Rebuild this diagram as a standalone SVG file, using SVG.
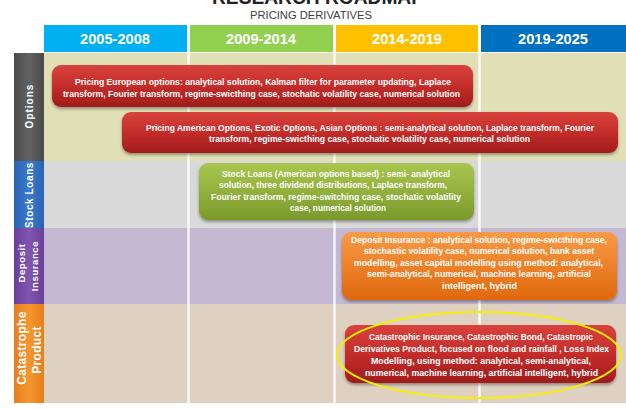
<svg xmlns="http://www.w3.org/2000/svg" width="626" height="409" viewBox="0 0 626 409">
<defs>
<linearGradient id="gRed" x1="0" y1="0" x2="0" y2="1"><stop offset="0" stop-color="#d8423c"/><stop offset="0.5" stop-color="#c42d2a"/><stop offset="1" stop-color="#a01c1c"/></linearGradient>
<linearGradient id="gGreen" x1="0" y1="0" x2="0" y2="1"><stop offset="0" stop-color="#a9c64e"/><stop offset="1" stop-color="#7b9a2c"/></linearGradient>
<linearGradient id="gOrange" x1="0" y1="0" x2="0" y2="1"><stop offset="0" stop-color="#f99a45"/><stop offset="1" stop-color="#e0690e"/></linearGradient>
<linearGradient id="gGray" x1="0" y1="0" x2="1" y2="0"><stop offset="0" stop-color="#4a4a4a"/><stop offset="0.5" stop-color="#636363"/><stop offset="1" stop-color="#4a4a4a"/></linearGradient>
<linearGradient id="gBlue" x1="0" y1="0" x2="1" y2="0"><stop offset="0" stop-color="#2a62b0"/><stop offset="0.5" stop-color="#3a7bd0"/><stop offset="1" stop-color="#2a62b0"/></linearGradient>
<linearGradient id="gPurple" x1="0" y1="0" x2="1" y2="0"><stop offset="0" stop-color="#6a3e98"/><stop offset="0.5" stop-color="#8056b0"/><stop offset="1" stop-color="#6a3e98"/></linearGradient>
<linearGradient id="gOrangeBar" x1="0" y1="0" x2="1" y2="0"><stop offset="0" stop-color="#e57f1c"/><stop offset="0.5" stop-color="#f6962e"/><stop offset="1" stop-color="#e57f1c"/></linearGradient>
<filter id="sh" x="-5%" y="-10%" width="110%" height="130%"><feDropShadow dx="0" dy="2" stdDeviation="1.5" flood-color="#000" flood-opacity="0.35"/></filter>
</defs>
<style>
.hd{font-family:"Liberation Sans",Arial,sans-serif;font-weight:bold;font-size:14px;fill:#fff;text-anchor:middle}
.bx{font-family:"Liberation Sans",Arial,sans-serif;font-weight:bold;font-size:9px;fill:#fff;text-anchor:middle}
.lb{font-family:"Liberation Sans",Arial,sans-serif;font-weight:bold;fill:#fff;text-anchor:middle}
.div{stroke:#fff;stroke-width:2.5;opacity:0.85}
</style>
<rect width="626" height="409" fill="#fff"/>
<text x="318" y="4" font-family="Liberation Sans,Arial,sans-serif" font-size="20" font-weight="bold" fill="#222" text-anchor="middle" textLength="212" lengthAdjust="spacingAndGlyphs">RESEARCH ROADMAP</text>
<text x="311" y="19" font-family="Liberation Sans,Arial,sans-serif" font-size="11" fill="#404040" text-anchor="middle" textLength="122" lengthAdjust="spacingAndGlyphs">PRICING DERIVATIVES</text>

<g id="header">
<rect x="44" y="25" width="143" height="27" fill="#00b0f0"/>
<rect x="190" y="25" width="143" height="27" fill="#92d050"/>
<rect x="336" y="25" width="142" height="27" fill="#ffc000"/>
<rect x="481" y="25" width="145" height="27" fill="#0070c0"/>
<text class="hd" x="115" y="44" textLength="70" lengthAdjust="spacingAndGlyphs">2005-2008</text>
<text class="hd" x="261" y="44" textLength="70" lengthAdjust="spacingAndGlyphs">2009-2014</text>
<text class="hd" x="407" y="44" textLength="70" lengthAdjust="spacingAndGlyphs">2014-2019</text>
<text class="hd" x="553" y="44" textLength="70" lengthAdjust="spacingAndGlyphs">2019-2025</text>
</g>

<g id="rows">
<rect x="44" y="53" width="582" height="108" fill="#e0dfb6"/>
<rect x="44" y="161" width="582" height="67" fill="#d9d9d9"/>
<rect x="44" y="228" width="582" height="76" fill="#c4b8d2"/>
<rect x="44" y="304" width="582" height="99" fill="#dfd1c1"/>
<line class="div" x1="188.5" y1="53" x2="188.5" y2="403"/>
<line class="div" x1="334.5" y1="53" x2="334.5" y2="403"/>
<line class="div" x1="479.5" y1="53" x2="479.5" y2="403"/>
</g>

<g id="label-options">
<rect x="14" y="53" width="30" height="108" fill="url(#gGray)"/>
<text class="lb" font-size="10" letter-spacing="1" transform="translate(32.5,106) rotate(-90)">Options</text>
</g>
<g id="label-stock-loans">
<rect x="14" y="161" width="30" height="67" fill="url(#gBlue)"/>
<text class="lb" font-size="10" letter-spacing="0.6" transform="translate(32.5,195) rotate(-90)">Stock Loans</text>
</g>
<g id="label-deposit">
<rect x="14" y="228" width="30" height="76" fill="url(#gPurple)"/>
<text class="lb" font-size="9.5" letter-spacing="0.6" transform="translate(24.5,263) rotate(-90)">Deposit</text>
<text class="lb" font-size="9.5" letter-spacing="0.6" transform="translate(38,266) rotate(-90)">Insurance</text>
</g>
<g id="label-catastrophe">
<rect x="14" y="304" width="30" height="99" fill="url(#gOrangeBar)"/>
<text class="lb" font-size="12" letter-spacing="0.3" transform="translate(25.5,348) rotate(-90)">Catastrophe</text>
<text class="lb" font-size="12" letter-spacing="0.3" transform="translate(41,350) rotate(-90)">Product</text>
</g>

<g id="node-european">
<rect x="52" y="65" width="421" height="42" rx="9" fill="url(#gRed)" filter="url(#sh)"/>
<text class="bx" x="263" y="84.5" textLength="376" lengthAdjust="spacingAndGlyphs">Pricing European options: analytical solution, Kalman filter for parameter updating, Laplace</text>
<text class="bx" x="261.5" y="96.5" textLength="397" lengthAdjust="spacingAndGlyphs">transform, Fourier transform, regime-swicthing case, stochatic volatility case, numerical solution</text>
</g>
<g id="node-american">
<rect x="122" y="112" width="496" height="41" rx="9" fill="url(#gRed)" filter="url(#sh)"/>
<text class="bx" x="370" y="130.5" textLength="448" lengthAdjust="spacingAndGlyphs">Pricing American Options, Exotic Options, Asian Options : semi-analytical solution, Laplace transform, Fourier</text>
<text class="bx" x="369.5" y="142" textLength="321" lengthAdjust="spacingAndGlyphs">transform, regime-swicthing case, stochatic volatility case, numerical solution</text>
</g>
<g id="node-stock-loans">
<rect x="199" y="163" width="275" height="57" rx="9" fill="url(#gGreen)" filter="url(#sh)"/>
<text class="bx" x="336" y="176.5" textLength="228" lengthAdjust="spacingAndGlyphs">Stock Loans (American options based) : semi- analytical</text>
<text class="bx" x="333" y="188" textLength="228" lengthAdjust="spacingAndGlyphs">solution, three dividend distributions, Laplace transform,</text>
<text class="bx" x="336" y="199.5" textLength="250" lengthAdjust="spacingAndGlyphs">Fourier transform, regime-switching case, stochatic volatility</text>
<text class="bx" x="338" y="211" textLength="96" lengthAdjust="spacingAndGlyphs">case, numerical solution</text>
</g>
<g id="node-deposit">
<rect x="342" y="232" width="275" height="68" rx="9" fill="url(#gOrange)" filter="url(#sh)"/>
<text class="bx" x="479" y="242.5" textLength="256" lengthAdjust="spacingAndGlyphs">Deposit Insurance : analytical solution, regime-swicthing case,</text>
<text class="bx" x="479" y="254" textLength="230" lengthAdjust="spacingAndGlyphs">stochastic volatility case, numerical solution, bank asset</text>
<text class="bx" x="478.5" y="265.5" textLength="249" lengthAdjust="spacingAndGlyphs">modelling, asset capital modelling using  method: analytical,</text>
<text class="bx" x="479" y="277" textLength="224" lengthAdjust="spacingAndGlyphs">semi-analytical, numerical, machine learning, artificial</text>
<text class="bx" x="479.5" y="289" textLength="75" lengthAdjust="spacingAndGlyphs">intelligent, hybrid</text>
</g>
<g id="node-catastrophe">
<rect x="345" y="325" width="271" height="58" rx="9" fill="url(#gRed)" filter="url(#sh)"/>
<text class="bx" x="481" y="339.5" textLength="224" lengthAdjust="spacingAndGlyphs">Catastrophic Insurance, Catastrophic Bond, Catastropic</text>
<text class="bx" x="481.5" y="351.5" textLength="255" lengthAdjust="spacingAndGlyphs">Derivatives Product, focused on flood and rainfall ,  Loss Index</text>
<text class="bx" x="481" y="363.5" textLength="220" lengthAdjust="spacingAndGlyphs">Modelling, using  method: analytical, semi-analytical,</text>
<text class="bx" x="481.5" y="375.5" textLength="233" lengthAdjust="spacingAndGlyphs">numerical, machine learning, artificial intelligent, hybrid</text>
<ellipse cx="479" cy="355" rx="142" ry="43" fill="none" stroke="#f5f000" stroke-width="2"/>
</g>
<g id="connectors"/>
</svg>
